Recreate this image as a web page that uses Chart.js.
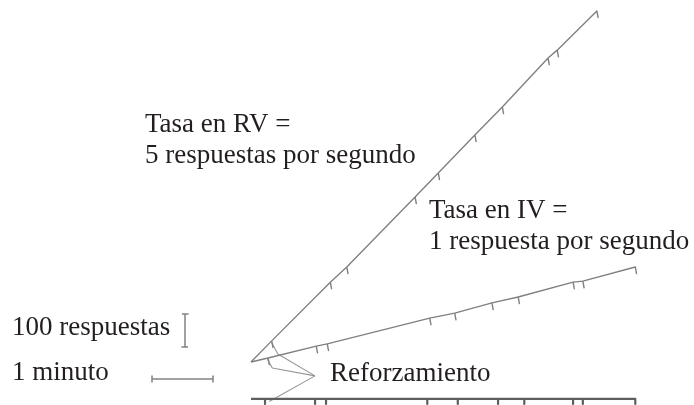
<!DOCTYPE html>
<html>
<head>
<meta charset="utf-8">
<script src="https://cdn.jsdelivr.net/npm/chart.js@4.4.1/dist/chart.umd.min.js"></script>
<style>
  html, body { margin: 0; padding: 0; background: #ffffff; }
  #wrap { width: 694px; height: 405px; position: relative; }
</style>
</head>
<body>
<div id="wrap"><canvas id="c" width="694" height="405"></canvas></div>
<script>
// ---- Data read from the cumulative record (time in minutes, cumulative responses) ----
// Variable-ratio (RV) record: points where a reinforcer was delivered (first point = start)
const rvTimes     = [0, 0.34, 1.30, 1.57, 2.69, 3.07, 3.67, 4.12, 4.87, 5.02, 5.67];
const rvResponses = [0, 64, 242, 288, 500, 573, 688, 773, 921, 945, 1064];
// Variable-interval (IV) record
const ivTimes     = [0, 0.28, 1.07, 1.25, 2.93, 3.34, 3.95, 4.38, 5.28, 5.44, 6.30];
const ivResponses = [0, 12, 48, 55, 133, 148, 179, 197, 242, 245, 288];
// Event pen (reinforcer deliveries on the IV schedule), times in minutes
const eventTimes  = [0.23, 1.05, 1.23, 2.89, 3.39, 4.05, 4.48, 5.28, 5.44, 6.30];
const eventEnd    = 6.30;
// Scale bars
const scaleResponses = 100;
const scaleMinutes   = 1;
// Text
const rvLabel   = ['Tasa en RV =', '5 respuestas por segundo'];
const ivLabel   = ['Tasa en IV =', '1 respuesta por segundo'];
const respLabel = '100 respuestas';
const minLabel  = '1 minuto';
const reinfLabel = 'Reforzamiento';

// ---- Layout / style (not data) ----
const PEN_DX = 0.02, PEN_DY = -20;      // reinforcement mark deflection
const EVENT_LEVEL = -112, EVENT_DY = -15;
const GREY = 'rgb(128,128,128)';

function recordPath(times, counts) {
  const pts = [{x: times[0], y: counts[0]}];
  for (let i = 1; i < times.length; i++) {
    pts.push({x: times[i], y: counts[i]});
    pts.push({x: times[i] + PEN_DX, y: counts[i] + PEN_DY});
    pts.push({x: times[i], y: counts[i]});
  }
  return pts;
}
function eventPath(times, end) {
  const pts = [{x: 0, y: EVENT_LEVEL}];
  times.forEach(t => {
    pts.push({x: t, y: EVENT_LEVEL});
    pts.push({x: t, y: EVENT_LEVEL + EVENT_DY});
    pts.push({x: t, y: EVENT_LEVEL});
  });
  pts.push({x: end, y: EVENT_LEVEL});
  return pts;
}
// vertical scale bar (responses)
const vbX = -1.082, vbTop = 145.5, capW = 0.05;
const vBar = [
  {x: vbX - capW, y: vbTop}, {x: vbX + capW, y: vbTop}, {x: vbX, y: vbTop},
  {x: vbX, y: vbTop - scaleResponses},
  {x: vbX - capW, y: vbTop - scaleResponses}, {x: vbX + capW, y: vbTop - scaleResponses}
];
// horizontal scale bar (minutes)
const hbY = -51.5, hbX0 = -1.623, capH = 9;
const hBar = [
  {x: hbX0, y: hbY + capH}, {x: hbX0, y: hbY - capH}, {x: hbX0, y: hbY},
  {x: hbX0 + scaleMinutes, y: hbY},
  {x: hbX0 + scaleMinutes, y: hbY + capH}, {x: hbX0 + scaleMinutes, y: hbY - capH}
];
// "Reforzamiento" pointer lines (apex next to the label)
const apex = {x: 1.049, y: -42};
const ptrRV = [apex, {x: rvTimes[1] + 0.10, y: 24}, {x: rvTimes[1], y: rvResponses[1] - 6}];
const ptrIV = [apex, {x: ivTimes[1] + 0.07, y: -18}, {x: ivTimes[1] - 0.01, y: ivResponses[1] - 4}];
const ptrEv = [apex, {x: eventTimes[0] + 0.07, y: EVENT_LEVEL - 8}];

function ds(data, color, width) {
  return { data, showLine: true, borderColor: color, borderWidth: width,
           pointRadius: 0, pointHoverRadius: 0, fill: false, tension: 0,
           borderJoinStyle: 'round', borderCapStyle: 'butt' };
}

const textPlugin = {
  id: 'texts',
  afterDraw(chart) {
    const ctx = chart.ctx, xs = chart.scales.x, ys = chart.scales.y;
    ctx.save();
    ctx.fillStyle = '#231f20';
    ctx.font = "27px 'Liberation Serif'";
    ctx.textBaseline = 'alphabetic';
    ctx.textAlign = 'left';
    const put = (lines, t, r, lh) => {
      const x = xs.getPixelForValue(t), y = ys.getPixelForValue(r);
      lines.forEach((s, i) => ctx.fillText(s, x, y + i * lh));
    };
    put(rvLabel, -1.738, 697, 31);
    put(ivLabel, 2.918, 436, 31);
    put([respLabel], -3.918, 82, 0);
    put([minLabel], -3.918, -55, 0);
    put([reinfLabel], 1.295, -58, 0);
    ctx.restore();
  }
};

new Chart(document.getElementById('c'), {
  type: 'scatter',
  data: {
    datasets: [
      ds(eventPath(eventTimes, eventEnd), 'rgb(95,95,95)', 2.2),
      ds(recordPath(rvTimes, rvResponses), GREY, 1.4),
      ds(recordPath(ivTimes, ivResponses), GREY, 1.4),
      ds(vBar, 'rgb(130,130,130)', 1.5),
      ds(hBar, 'rgb(130,130,130)', 1.5),
      ds(ptrRV, 'rgb(150,150,150)', 1.1),
      ds(ptrIV, 'rgb(150,150,150)', 1.1),
      ds(ptrEv, 'rgb(150,150,150)', 1.1)
    ]
  },
  options: {
    responsive: false,
    animation: false,
    events: [],
    layout: { padding: 0 },
    plugins: { legend: { display: false }, tooltip: { enabled: false } },
    scales: {
      x: { type: 'linear', min: -251 / 61, max: 443 / 61, display: false },
      y: { type: 'linear', min: -43 / 0.33, max: 362 / 0.33, display: false }
    }
  },
  plugins: [textPlugin]
});
</script>
</body>
</html>
